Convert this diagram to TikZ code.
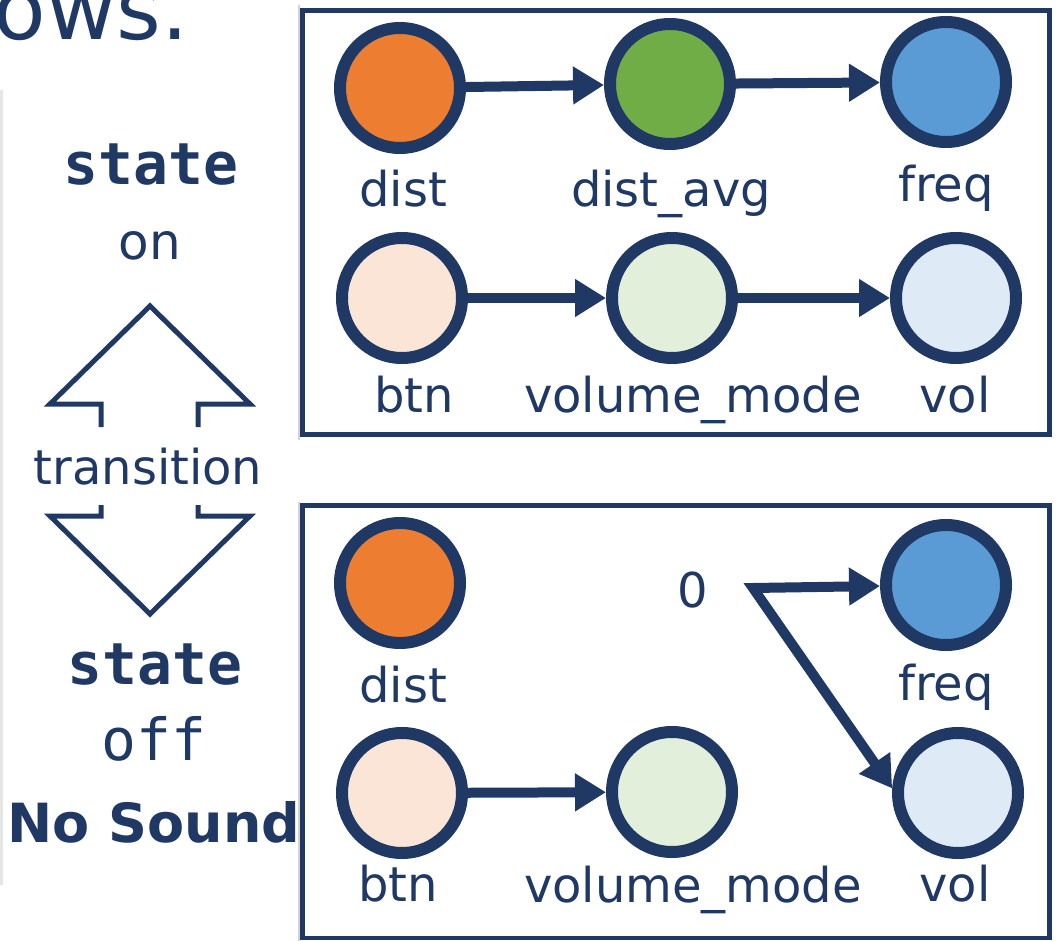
\documentclass[tikz,border=0pt]{standalone}
\usepackage{fontspec}
\setmainfont{DejaVu Sans}
\setmonofont{DejaVu Sans Mono}
\usepackage{xcolor}
\usepackage{tikz}
\usetikzlibrary{arrows.meta, positioning, calc}
\definecolor{navy}{HTML}{203864}
\definecolor{accOrange}{HTML}{ED7D31}
\definecolor{accGreen}{HTML}{70AD47}
\definecolor{accBlue}{HTML}{5B9BD5}
\definecolor{paleOrange}{HTML}{FBE5D6}
\definecolor{paleGreen}{HTML}{E2EFDA}
\definecolor{paleBlue}{HTML}{DEEBF7}
\definecolor{rule}{HTML}{E6E6E6}
\tikzset{%
	sig/.style={draw=navy, circle, line width=12pt, minimum size=120pt, inner sep=0pt},
	lbl/.style={text=navy, anchor=base, inner sep=0pt, font=\fontsize{48}{58}\selectfont},
	flow/.style={draw=navy, line width=10pt, -{Triangle[length=31pt, width=36pt]}},
	panel/.style={draw=navy, line width=4.5pt},
	hint/.style={draw=navy, line width=5pt, miter limit=20},
	side/.style={text=navy, anchor=base, inner sep=0pt}
}
\begin{document}
\begin{tikzpicture}[x=1pt, y=-1pt]
	\useasboundingbox (0,0) rectangle (1058,941);

	% slide leftovers
	\node[side, anchor=base east, font=\fontsize{86}{96}\selectfont] (ows) at (189,40) {ows.};
	\draw[rule, line width=3pt] (1.5,90) -- (1.5,885);
	\draw[gray!35, line width=1.2pt] (299,5) -- (299,440);
	\draw[gray!35, line width=1.2pt] (299,502) -- (299,941);

	% state panels
	\draw[panel] (302.5,10.5) rectangle (1049.5,434.5);
	\draw[panel] (302.5,505.5) rectangle (1049.5,938);

	% state on
	\node[sig, fill=accOrange] (dist1) at (400,88) {};
	\node[sig, fill=accGreen] (davg1) at (670,84) {};
	\node[sig, fill=accBlue] (freq1) at (946,82) {};
	\node[sig, fill=paleOrange] (btn1) at (402,298) {};
	\node[sig, fill=paleGreen] (vmode1) at (672,298) {};
	\node[sig, fill=paleBlue] (vol1) at (956,298) {};

	\node[lbl] (dist1-l) at (403,207) {dist};
	\node[lbl] (davg1-l) at (671,207) {dist\_avg};
	\node[lbl] (freq1-l) at (946,202) {freq};
	\node[lbl] (btn1-l) at (414,412) {btn};
	\node[lbl] (vmode1-l) at (693,412) {volume\_mode};
	\node[lbl] (vol1-l) at (955,412) {vol};

	\draw[flow] (dist1) -- (davg1);
	\draw[flow] (davg1) -- (freq1);
	\draw[flow] (btn1) -- (vmode1);
	\draw[flow] (vmode1) -- (vol1);

	% state off
	\node[sig, fill=accOrange] (dist0) at (400,583) {};
	\node[sig, fill=accBlue] (freq0) at (946,585) {};
	\node[sig, fill=paleOrange] (btn0) at (402,793) {};
	\node[sig, fill=paleGreen] (vmode0) at (672,792) {};
	\node[sig, fill=paleBlue] (vol0) at (958,793) {};

	\node[lbl] (dist0-l) at (403,702) {dist};
	\node[lbl] (freq0-l) at (946,700) {freq};
	\node[lbl] (btn0-l) at (398,901) {btn};
	\node[lbl] (vmode0-l) at (693,902) {volume\_mode};
	\node[lbl] (vol0-l) at (955,901) {vol};
	\node[lbl] (zero) at (693,607) {0};

	\coordinate (zsrc) at (753,588);
	\draw[flow, {Triangle[length=31pt, width=36pt]}-{Triangle[length=31pt, width=36pt]}]
		(freq0) -- (zsrc) -- (vol0.176);
	\draw[flow] (btn0) -- (vmode0);

	% left column
	\node[side, font=\fontsize{58}{66}\selectfont\ttfamily\bfseries] (on-st) at (151,185) {state};
	\node[side, font=\fontsize{50}{60}\selectfont] (on-v) at (150,260) {on};
	\node[side, font=\fontsize{48}{58}\selectfont] (trans) at (148,484) {transition};
	\node[side, font=\fontsize{58}{66}\selectfont\ttfamily\bfseries] (off-st) at (155,684) {state};
	\node[side, font=\fontsize{58}{66}\selectfont\ttfamily] (off-v) at (154,760) {off};
	\node[side, font=\fontsize{54}{64}\selectfont\bfseries] (nosnd) at (154,842) {No Sound};

	% transition arrows
	\draw[hint] (101,427) -- (101,404) -- (50,404) -- (150,306) -- (250,404) -- (198,404) -- (198,427);
	\draw[hint] (101,505) -- (101,516) -- (50,516) -- (150,614) -- (250,516) -- (198,516) -- (198,505);
\end{tikzpicture}
\end{document}
